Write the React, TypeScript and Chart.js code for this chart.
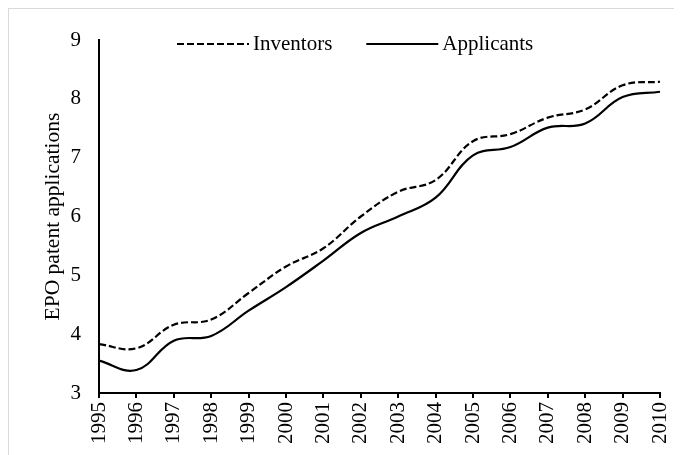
import React, { useEffect, useRef } from "react";
import { Chart, registerables } from "chart.js";

Chart.register(...registerables);

const years = ["1995","1996","1997","1998","1999","2000","2001","2002","2003","2004","2005","2006","2007","2008","2009","2010"];
const inventors = [3.83, 3.76, 4.16, 4.25, 4.70, 5.15, 5.46, 6.00, 6.42, 6.62, 7.28, 7.40, 7.68, 7.82, 8.23, 8.29];
const applicants = [3.55, 3.39, 3.89, 3.97, 4.40, 4.80, 5.25, 5.72, 6.00, 6.32, 7.04, 7.18, 7.51, 7.58, 8.03, 8.12];
const yTicks = [3, 4, 5, 6, 7, 8, 9];

const FONT = "Liberation Serif, Times New Roman, serif";

const inlineLegend = {
  id: "inlineLegend",
  afterDraw(chart: any) {
    const { ctx, chartArea } = chart;
    ctx.save();
    ctx.font = `21px ${FONT}`;
    ctx.textBaseline = "middle";
    ctx.textAlign = "left";
    let x = chartArea.left + 78;
    const y = chartArea.top + 4;
    const lineLen = 72;
    chart.data.datasets.forEach((ds: any) => {
      ctx.beginPath();
      ctx.setLineDash(ds.borderDash || []);
      ctx.lineWidth = ds.borderWidth;
      ctx.strokeStyle = ds.borderColor;
      ctx.moveTo(x, y);
      ctx.lineTo(x + lineLen, y);
      ctx.stroke();
      ctx.setLineDash([]);
      x += lineLen + 4;
      ctx.fillStyle = "#000";
      ctx.fillText(ds.label, x, y);
      x += ctx.measureText(ds.label).width + 34;
    });
    ctx.restore();
  },
};

export default function App() {
  const ref = useRef<HTMLCanvasElement | null>(null);
  useEffect(() => {
    if (!ref.current) return;
    const chart = new Chart(ref.current, {
      type: "line",
      data: {
        labels: years,
        datasets: [
          {
            label: "Inventors",
            data: inventors,
            borderColor: "#000",
            borderWidth: 2.2,
            borderDash: [7, 3],
            pointRadius: 0,
            tension: 0.4,
            fill: false,
          },
          {
            label: "Applicants",
            data: applicants,
            borderColor: "#000",
            borderWidth: 2.2,
            pointRadius: 0,
            tension: 0.4,
            fill: false,
          },
        ],
      },
      options: {
        animation: false,
        responsive: true,
        maintainAspectRatio: false,
        layout: { padding: { left: 31, top: 31, right: 22, bottom: 0 } },
        plugins: {
          legend: { display: false },
          tooltip: { enabled: false },
        },
        scales: {
          x: {
            type: "category",
            offset: false,
            grid: {
              display: true,
              drawOnChartArea: false,
              drawTicks: true,
              tickLength: 5,
              color: "#000",
              lineWidth: 2,
            },
            border: { display: true, color: "#000", width: 2 },
            ticks: {
              color: "#000",
              font: { family: FONT, size: 21 },
              minRotation: 90,
              maxRotation: 90,
              autoSkip: false,
              padding: 4,
            },
            afterFit: (s: any) => {
              s.height = 62;
              s.paddingLeft = 0;
              s.paddingRight = 0;
            },
          },
          y: {
            min: 3,
            max: 9,
            grid: { display: false },
            border: { display: true, color: "#000", width: 2 },
            afterBuildTicks: (s: any) => {
              s.ticks = yTicks.map((v) => ({ value: v }));
            },
            ticks: {
              color: "#000",
              font: { family: FONT, size: 21 },
              padding: 10,
            },
            title: {
              display: true,
              text: "EPO patent applications",
              color: "#000",
              font: { family: FONT, size: 21.5 },
              padding: { top: 0, bottom: 0 },
            },
            afterFit: (s: any) => {
              s.width = 59;
            },
          },
        },
      },
      plugins: [inlineLegend],
    });
    return () => chart.destroy();
  }, []);

  return (
    <>
      <style>{"html,body{overflow:hidden}"}</style>
      <div
        style={{
          position: "relative",
          width: 673,
          height: 446,
          borderTop: "1px solid #d9d9d9",
          borderLeft: "1px solid #d9d9d9",
        }}
      >
        <canvas ref={ref} />
      </div>
    </>
  );
}
